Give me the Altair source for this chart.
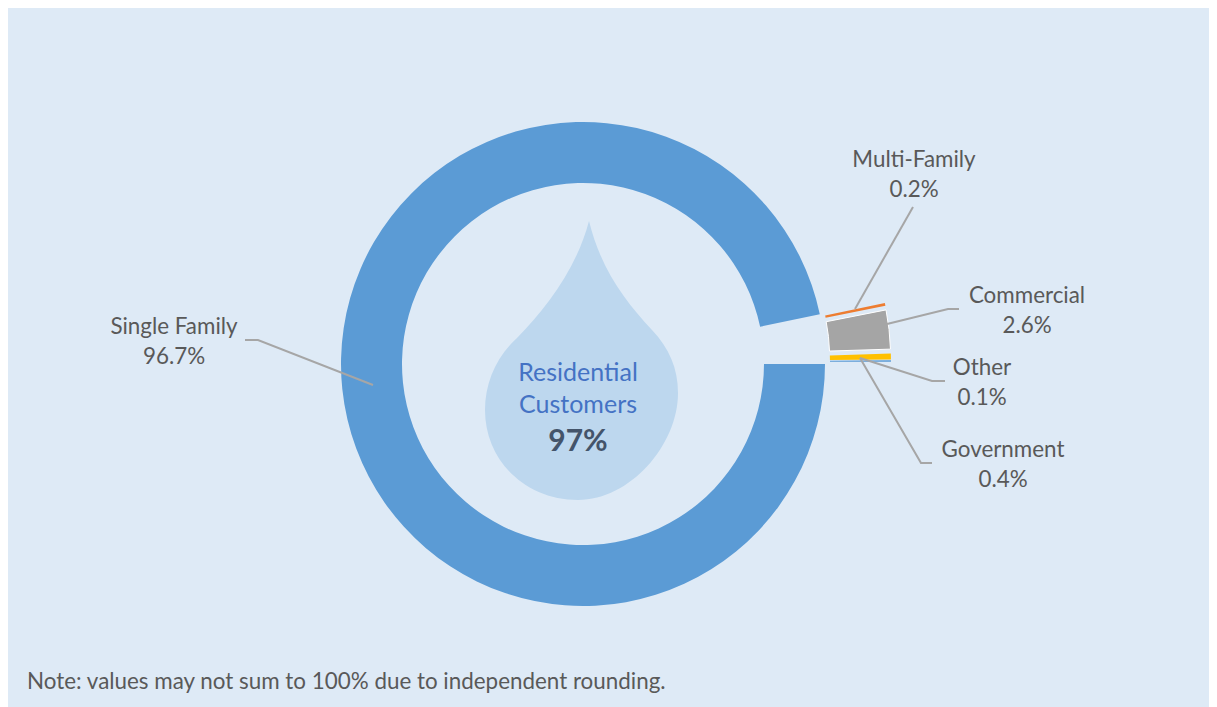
import altair as alt
import pandas as pd

# ---- values
slice_names = ["Single Family", "Multi-Family", "Commercial", "Government", "Other"]
slice_values = [96.7, 0.2, 2.6, 0.4, 0.1]
slice_colors = ["#5B9BD5", "#ED7D31", "#A5A5A5", "#FFC000", "#5B9BD5"]
slice_edges = ["transparent", "transparent", "#FFFFFF", "transparent", "transparent"]

label_names = ["Single Family", "Multi-Family", "Commercial", "Other", "Government"]
label_values = [96.7, 0.2, 2.6, 0.1, 0.4]

center_lines = ["Residential", "Customers"]
center_value = "97%"
note = "Note: values may not sum to 100% due to independent rounding."

# ---- layout (pixels inside the chart)
W, H = 1201, 699
CX, CY = 575, 356
R_OUT, R_IN = 242, 181
EXPLODE = 66
FONT = "Lato"
TEXT = "#595959"
BG = "#DEEAF6"

label_x = [166, 906, 1019, 974, 995]
label_y = [319, 152, 288, 360, 442]
LINE_STEP = 29.5

leader_groups = ["a"] * 3 + ["b"] * 2 + ["c"] * 3 + ["d"] * 3 + ["e"] * 3
leader_x = [237, 250, 365, 905, 847, 951, 940, 879, 937, 924, 852, 924, 913, 852]
leader_y = [332, 332, 377, 199, 301, 301, 301, 316, 373, 373, 350, 455, 455, 350]

DROP = ("M0.08,-1.79 C-0.05,-1.3 -0.35,-0.92 -0.64,-0.62 C-0.84,-0.44 -0.96,-0.18 -0.96,0.10 "
        "C-0.96,0.61 -0.55,1.0 -0.03,1.0 C0.49,1.0 0.97,0.45 0.97,-0.07 "
        "C0.97,-0.32 0.88,-0.52 0.71,-0.70 C0.45,-0.98 0.2,-1.3 0.08,-1.79 Z")

slices = pd.DataFrame({"name": slice_names, "value": slice_values,
                       "order": range(len(slice_names)), "color": slice_colors,
                       "edge": slice_edges})
labels = pd.DataFrame({"name": label_names, "value": label_values, "px": label_x, "py": label_y})
leaders = pd.DataFrame({"g": leader_groups, "px": leader_x, "py": leader_y,
                        "i": range(len(leader_x))})

px = lambda f: alt.X(f, type="quantitative", scale=None, axis=None)
py = lambda f: alt.Y(f, type="quantitative", scale=None, axis=None)
TAU = 6.283185307
START = TAU / 4
GROUP_MID = START + 98.35 / 100 * TAU  # direction the small slices are pulled out towards

drop = alt.Chart(pd.DataFrame({"px": [573], "py": [392]})).mark_point(
    shape=DROP, size=40000, filled=True, fill="#BDD7EE", opacity=1, strokeWidth=0
).encode(x=px("px"), y=py("py"))

donut = (
    alt.Chart(slices)
    .transform_window(end="sum(value)", sort=[alt.SortField("order")])
    .transform_calculate(
        start="datum.end - datum.value",
        mid=f"{START} + (datum.end - datum.value / 2) / 100 * {TAU}",
        shift=f"datum.name === 'Single Family' ? 0 : {EXPLODE}",
    )
    .transform_calculate(dir=f"{GROUP_MID} + 0.7 * (datum.mid - {GROUP_MID})")
    .transform_calculate(
        cx=f"{CX} + datum.shift * sin(datum.dir)",
        cy=f"{CY} - datum.shift * cos(datum.dir)",
    )
    .mark_arc(radius=R_OUT, radius2=R_IN, strokeWidth=1)
    .encode(
        theta=alt.Theta("start:Q", scale=alt.Scale(domain=[0, 100], range=[START, START + TAU])),
        theta2="end:Q",
        x=px("cx"),
        y=py("cy"),
        fill=alt.Fill("color:N", scale=None),
        stroke=alt.Stroke("edge:N", scale=None),
    )
)

lead = alt.Chart(leaders).mark_line(color="#A6A6A6", strokeWidth=2).encode(
    x=px("px"), y=py("py"), detail="g:N", order="i:Q"
)

base_text = dict(font=FONT, fontSize=22.4, color=TEXT, align="center", baseline="middle")
names = alt.Chart(labels).mark_text(**base_text).encode(x=px("px"), y=py("py"), text="name:N")
pcts = (
    alt.Chart(labels)
    .transform_calculate(t="format(datum.value, '.1f') + '%'", py2=f"datum.py + {LINE_STEP}")
    .mark_text(**base_text)
    .encode(x=px("px"), y=py("py2"), text="t:N")
)

center = alt.Chart(pd.DataFrame({"t": center_lines, "px": [570, 570], "py": [365, 397]})).mark_text(
    font=FONT, fontSize=25, color="#4472C4", align="center", baseline="middle"
).encode(x=px("px"), y=py("py"), text="t:N")

big = alt.Chart(pd.DataFrame({"t": [center_value], "px": [570], "py": [434]})).mark_text(
    font=FONT, fontSize=30, fontWeight="bold", color="#44546A", align="center", baseline="middle"
).encode(x=px("px"), y=py("py"), text="t:N")

foot = alt.Chart(pd.DataFrame({"t": [note], "px": [19], "py": [674]})).mark_text(
    font=FONT, fontSize=22.4, color=TEXT, align="left", baseline="middle"
).encode(x=px("px"), y=py("py"), text="t:N")

chart = (
    alt.layer(drop, donut, lead, names, pcts, center, big, foot)
    .properties(width=W, height=H, background=BG, padding=0)
    .configure_view(stroke=None)
)
chart.save("out.html", embed_options={"renderer": "svg", "actions": False})
